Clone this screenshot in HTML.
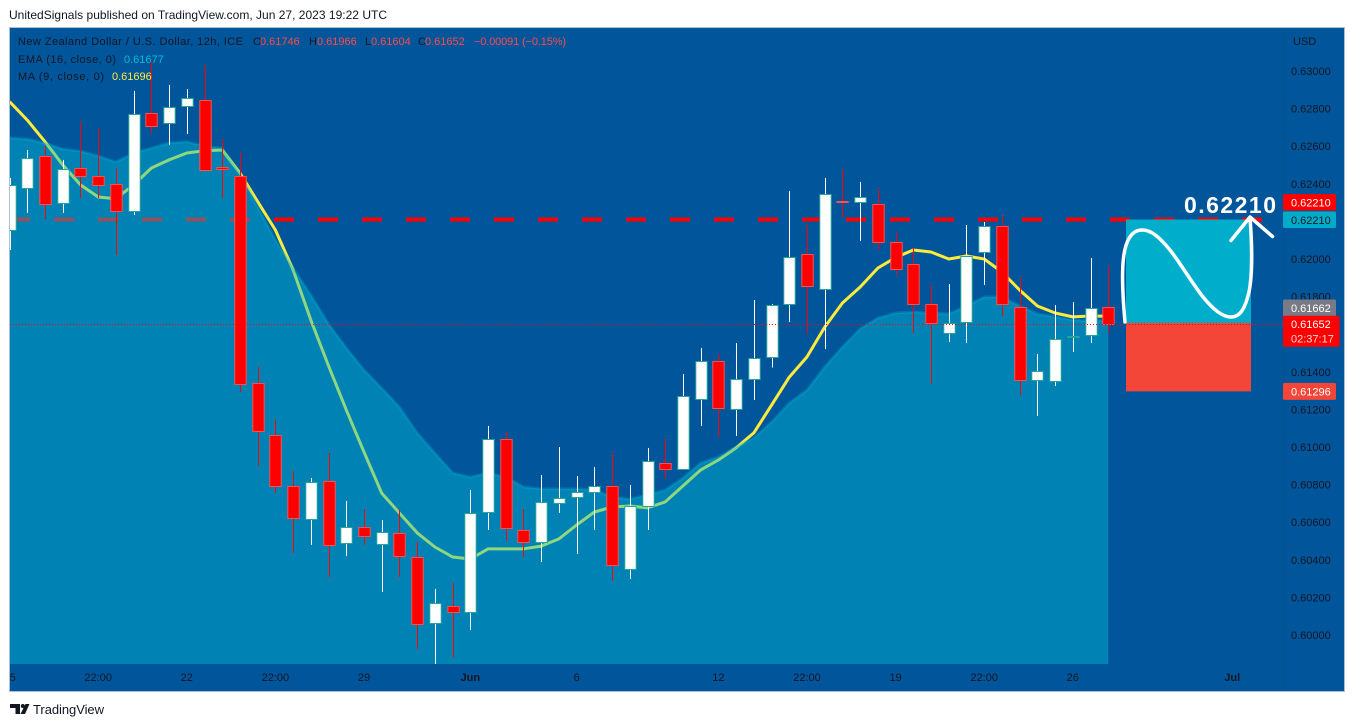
<!DOCTYPE html>
<html lang="en">
<head>
<meta charset="utf-8">
<title>NZDUSD 12h chart</title>
<style>
html,body{margin:0;padding:0;background:#fff;width:1355px;height:727px;overflow:hidden}
svg{display:block}
text{font-family:"Liberation Sans",sans-serif}
</style>
</head>
<body>
<svg id="chart" width="1355" height="727" viewBox="0 0 1355 727">
  <defs>
    <clipPath id="pane-clip"><rect x="10" y="28" width="1273" height="636"/></clipPath>
    <clipPath id="axis-clip"><rect x="10" y="664" width="1334" height="27"/></clipPath>
  </defs>

  <text x="9" y="19" font-size="12" fill="#131722" textLength="378" lengthAdjust="spacing">UnitedSignals published on TradingView.com, Jun 27, 2023 19:22 UTC</text>

  <rect x="9.5" y="27.5" width="1335" height="664" fill="#00559B" stroke="#A9C0D6" stroke-width="1"/>
  <rect x="1283" y="28" width="1" height="663" fill="#0B4F8C"/>

  <g id="pane" clip-path="url(#pane-clip)">
    <g id="layer-ma"></g>
    <g id="layer-level"></g>
    <g id="layer-ema"></g>
    <g id="layer-candles"></g>
    <g id="layer-position"></g>
    <g id="layer-last"></g>
  </g>

  <path d="M1125 322 C1123 300 1121.500 275 1123.500 258 C1125.500 240 1132 230 1142 230 C1152 230 1160 238 1170 250 C1181 264 1192 283 1203 297 C1213 309 1222 317 1231 317 C1240 317 1245 309 1249 292 C1252 277 1252.500 250 1250 218" fill="none" stroke="#fff" stroke-width="3.500" stroke-linecap="round" stroke-linejoin="round"/>
  <path d="M1231 240.500 L1250 217 L1272.500 236.500" fill="none" stroke="#fff" stroke-width="3.500" stroke-linecap="round" stroke-linejoin="round"/>
  <text x="1184" y="213" font-size="23" font-weight="700" fill="#fff" textLength="92" lengthAdjust="spacing">0.62210</text>

  <g font-size="11" fill="#131722">
    <text x="18" y="45" textLength="225" lengthAdjust="spacing">New Zealand Dollar / U.S. Dollar, 12h, ICE</text>
    <text x="253" y="45">O</text>
    <text x="260" y="45" fill="#FF4A4A">0.61746</text>
    <text x="309" y="45">H</text>
    <text x="317" y="45" fill="#FF4A4A">0.61966</text>
    <text x="365" y="45">L</text>
    <text x="371" y="45" fill="#FF4A4A">0.61604</text>
    <text x="418" y="45">C</text>
    <text x="425" y="45" fill="#FF4A4A">0.61652</text>
    <text x="474" y="45" fill="#FF4A4A" textLength="92" lengthAdjust="spacing">−0.00091 (−0.15%)</text>
    <text x="18" y="63" textLength="98" lengthAdjust="spacing">EMA (16, close, 0)</text>
    <text x="124" y="63" fill="#00BCD4">0.61677</text>
    <text x="18" y="80" textLength="86" lengthAdjust="spacing">MA (9, close, 0)</text>
    <text x="112" y="80" fill="#FFEB3B">0.61696</text>
  </g>

  <text x="1293" y="45" font-size="11" fill="#131722">USD</text>
  <g id="price-axis" font-size="11" fill="#131722"></g>
  <g id="price-labels" font-size="11"></g>
  <g id="time-axis" font-size="11" fill="#131722" clip-path="url(#axis-clip)"></g>

  <g>
    <path d="M10 704H20V714H15.500V708H10Z" fill="#131722"/>
    <circle cx="22.800" cy="706" r="2" fill="#131722"/>
    <path d="M25.500 704H29.500L25 714H20.500Z" fill="#131722"/>
    <text x="33" y="714" font-size="13" fill="#131722" textLength="71" lengthAdjust="spacing">TradingView</text>
  </g>
</svg>

<script>
const opens = [0.62154,0.62378,0.62548,0.62298,0.62484,0.62439,0.62399,0.62255,0.62774,0.62721,0.62816,0.62846,0.62489,0.62442,0.61340,0.61064,0.60793,0.60617,0.60819,0.60489,0.60572,0.60484,0.60545,0.60415,0.60064,0.60154,0.60122,0.60652,0.61040,0.60561,0.60497,0.60702,0.60734,0.60761,0.60793,0.60351,0.60684,0.60915,0.60883,0.61253,0.61455,0.61202,0.61364,0.61479,0.61758,0.62024,0.61843,0.62311,0.62301,0.62295,0.62093,0.61971,0.61763,0.61606,0.61665,0.62035,0.62173,0.61747,0.61356,0.61351,0.61583,0.61596,0.61746];
const highs = [0.62431,0.62580,0.62601,0.62527,0.62734,0.62697,0.62484,0.62894,0.63048,0.62926,0.62904,0.63032,0.62638,0.62569,0.61426,0.61144,0.60872,0.60835,0.60968,0.60713,0.60670,0.60612,0.60665,0.60495,0.60245,0.60277,0.60771,0.61112,0.61080,0.60670,0.60851,0.61000,0.60846,0.60894,0.60968,0.60798,0.60995,0.61043,0.61388,0.61527,0.61495,0.61553,0.61782,0.61761,0.62362,0.62181,0.62431,0.62479,0.62410,0.62372,0.62144,0.62059,0.61862,0.61867,0.62181,0.62197,0.62234,0.61904,0.61495,0.61755,0.61771,0.62005,0.61966];
const lows = [0.62048,0.62245,0.62213,0.62245,0.62324,0.62324,0.62021,0.62234,0.62670,0.62606,0.62665,0.62471,0.62324,0.61293,0.60899,0.60755,0.60436,0.60479,0.60309,0.60420,0.60479,0.60229,0.60309,0.59926,0.59830,0.59880,0.60027,0.60559,0.60500,0.60415,0.60388,0.60649,0.60431,0.60559,0.60287,0.60298,0.60559,0.60830,0.60878,0.61112,0.61053,0.61059,0.61250,0.61423,0.61665,0.61604,0.61521,0.62221,0.62096,0.62051,0.61915,0.61606,0.61338,0.61559,0.61553,0.61862,0.61697,0.61274,0.61165,0.61325,0.61505,0.61553,0.61604];
const closes = [0.62394,0.62539,0.62290,0.62481,0.62439,0.62394,0.62255,0.62769,0.62710,0.62811,0.62854,0.62471,0.62479,0.61335,0.61085,0.60795,0.60620,0.60814,0.60479,0.60577,0.60524,0.60548,0.60418,0.60056,0.60168,0.60120,0.60649,0.61040,0.60567,0.60497,0.60705,0.60731,0.60761,0.60790,0.60372,0.60684,0.60923,0.60883,0.61271,0.61455,0.61205,0.61364,0.61471,0.61753,0.62008,0.61854,0.62348,0.62306,0.62332,0.62088,0.61949,0.61763,0.61662,0.61662,0.62016,0.62173,0.61758,0.61354,0.61402,0.61577,0.61593,0.61742,0.61652];
const emaValues = [0.62644,0.62638,0.62617,0.62585,0.62574,0.62548,0.62516,0.62564,0.62590,0.62617,0.62624,0.62601,0.62590,0.62457,0.62277,0.62101,0.61952,0.61809,0.61654,0.61527,0.61410,0.61314,0.61213,0.61075,0.60968,0.60862,0.60840,0.60862,0.60840,0.60787,0.60777,0.60777,0.60777,0.60771,0.60734,0.60723,0.60745,0.60771,0.60835,0.60915,0.60947,0.61000,0.61048,0.61133,0.61234,0.61303,0.61426,0.61532,0.61628,0.61686,0.61713,0.61718,0.61713,0.61708,0.61750,0.61798,0.61798,0.61750,0.61708,0.61692,0.61676,0.61670,0.61677];
const maValues = [0.62837,0.62739,0.62624,0.62500,0.62394,0.62330,0.62321,0.62394,0.62484,0.62527,0.62564,0.62576,0.62580,0.62457,0.62305,0.62154,0.61942,0.61676,0.61431,0.61197,0.60973,0.60755,0.60649,0.60543,0.60468,0.60415,0.60404,0.60458,0.60458,0.60458,0.60473,0.60511,0.60585,0.60654,0.60681,0.60686,0.60676,0.60708,0.60793,0.60878,0.60931,0.60995,0.61075,0.61223,0.61372,0.61479,0.61638,0.61766,0.61851,0.61952,0.62008,0.62048,0.62037,0.62000,0.62016,0.62000,0.61931,0.61835,0.61750,0.61713,0.61692,0.61697,0.61696];
const priceTicks = [0.63,0.628,0.626,0.624,0.622,0.62,0.618,0.616,0.614,0.612,0.61,0.608,0.606,0.604,0.602,0.6];
const timeTickBars = [0,5,10,15,20,26,32,40,45,50,55,60,69];
const timeTickLabels = ['15','22:00','22','22:00','29','Jun','6','12','22:00','19','22:00','26','Jul'];
const boldTimeLabels = ['Jun','Jul'];
const targetPrice = 0.6221;
const lastPrice = 0.61652;
const stopPrice = 0.61296;
const maPrice = 0.61662;
const countdown = '02:37:17';

const SVGNS = 'http://www.w3.org/2000/svg';
const xAxis = i => 9.6 + 17.72 * i;
const yAxis = p => 71 + (0.63 - p) * 18800;

function make(tag, attrs, parent) {
  const node = document.createElementNS(SVGNS, tag);
  for (const k in attrs) node.setAttribute(k, attrs[k]);
  parent.appendChild(node);
  return node;
}
function pointsOf(values) {
  return values.map((v, i) => xAxis(i).toFixed(1) + ',' + yAxis(v).toFixed(1)).join(' ');
}

const layerMa = document.getElementById('layer-ma');
const layerLevel = document.getElementById('layer-level');
const layerEma = document.getElementById('layer-ema');
const layerCandles = document.getElementById('layer-candles');
const layerPosition = document.getElementById('layer-position');
const layerLast = document.getElementById('layer-last');
const priceAxis = document.getElementById('price-axis');
const priceLabels = document.getElementById('price-labels');
const timeAxis = document.getElementById('time-axis');

const maLine = make('polyline', {points: pointsOf(maValues), fill: 'none', stroke: '#FFEB3B', 'stroke-width': 3, 'stroke-linejoin': 'round'}, layerMa);



const levelLine = make('line', {x1: 10, x2: 1262, y1: yAxis(targetPrice), y2: yAxis(targetPrice), stroke: '#FF0000', 'stroke-width': 4, 'stroke-dasharray': '20 24'}, layerLevel);



const lastIndex = emaValues.length - 1;
const areaPoints = pointsOf(emaValues) + ' ' + xAxis(lastIndex).toFixed(1) + ',664 ' + xAxis(0).toFixed(1) + ',664';
const emaArea = make('polygon', {points: areaPoints, fill: 'rgba(0,188,212,0.44)'}, layerEma);


const emaLine = make('polyline', {points: pointsOf(emaValues), fill: 'none', stroke: 'rgba(0,188,212,0.28)', 'stroke-width': 3, 'stroke-linejoin': 'round'}, layerEma);



opens.forEach((open, i) => {
  const close = closes[i];
  const up = close >= open;
  const px = Math.round(xAxis(i));
  const bodyTop = Math.round(yAxis(Math.max(open, close)));
  const bodyBottom = Math.round(yAxis(Math.min(open, close)));
  const wickColor = up ? '#FFFFFF' : '#FF0000';
  const wick = make('rect', {x: px, y: yAxis(highs[i]), width: 1, height: yAxis(lows[i]) - yAxis(highs[i]), fill: wickColor}, layerCandles);
  
  
  const body = make('rect', {x: px - 5.2, y: bodyTop + 0.5, width: 11.4, height: Math.max(bodyBottom - bodyTop, 1), fill: up ? '#FFFFFF' : '#FF0000', stroke: up ? '#26A69A' : '#FF4F4F', 'stroke-width': 1}, layerCandles);
  
  
});

const profitRect = make('rect', {x: 1126, y: yAxis(targetPrice), width: 125, height: yAxis(lastPrice) - yAxis(targetPrice) - 1.5, fill: '#00AECB'}, layerPosition);


const lossRect = make('rect', {x: 1126, y: yAxis(lastPrice) - 1.5, width: 125, height: yAxis(stopPrice) - yAxis(lastPrice) + 1.5, fill: '#F44539'}, layerPosition);



const lastLine = make('line', {x1: 10, x2: 1283, y1: Math.round(yAxis(lastPrice)) + 0.5, y2: Math.round(yAxis(lastPrice)) + 0.5, stroke: '#FF0000', 'stroke-width': 1, 'stroke-dasharray': '1 2'}, layerLast);



priceTicks.forEach(p => {
  const t = make('text', {x: 1291, y: yAxis(p) + 4}, priceAxis);
  t.textContent = p.toFixed(5);
  
  
});

timeTickBars.forEach((bar, i) => {
  const label = timeTickLabels[i];
  const t = make('text', {x: xAxis(bar), y: 681, 'text-anchor': 'middle'}, timeAxis);
  if (boldTimeLabels.includes(label)) t.setAttribute('font-weight', '700');
  t.textContent = label;
  
  
});

function priceTag(name, price, color, textColor, dy, h, w) {
  const top = yAxis(price) + dy;
  const bg = make('rect', {x: 1283, y: top, width: w, height: h, rx: 1.5, fill: color}, priceLabels);
  
  
  const t = make('text', {x: 1291, y: top + 12.5, fill: textColor}, priceLabels);
  t.textContent = price.toFixed(5);
  
  
  return top;
}
priceTag('target-price-tag', targetPrice, '#FF0000', '#FFFFFF', -25.5, 16.5, 53);
priceTag('target-tool-price-tag', targetPrice, '#00ACC9', '#131722', -8, 16.5, 53);
priceTag('indicator-price-tag', maPrice, '#787B86', '#FFFFFF', -23, 17, 53);
const lastTop = priceTag('last-price-tag', lastPrice, '#FF0000', '#FFFFFF', -8.7, 31, 56.5);
const cd = make('text', {x: 1291, y: lastTop + 27, fill: '#FFD9D9'}, priceLabels);
cd.textContent = countdown;


priceTag('stop-price-tag', stopPrice, '#F44539', '#FFFFFF', -8.5, 17, 53);
</script>
</body>
</html>
